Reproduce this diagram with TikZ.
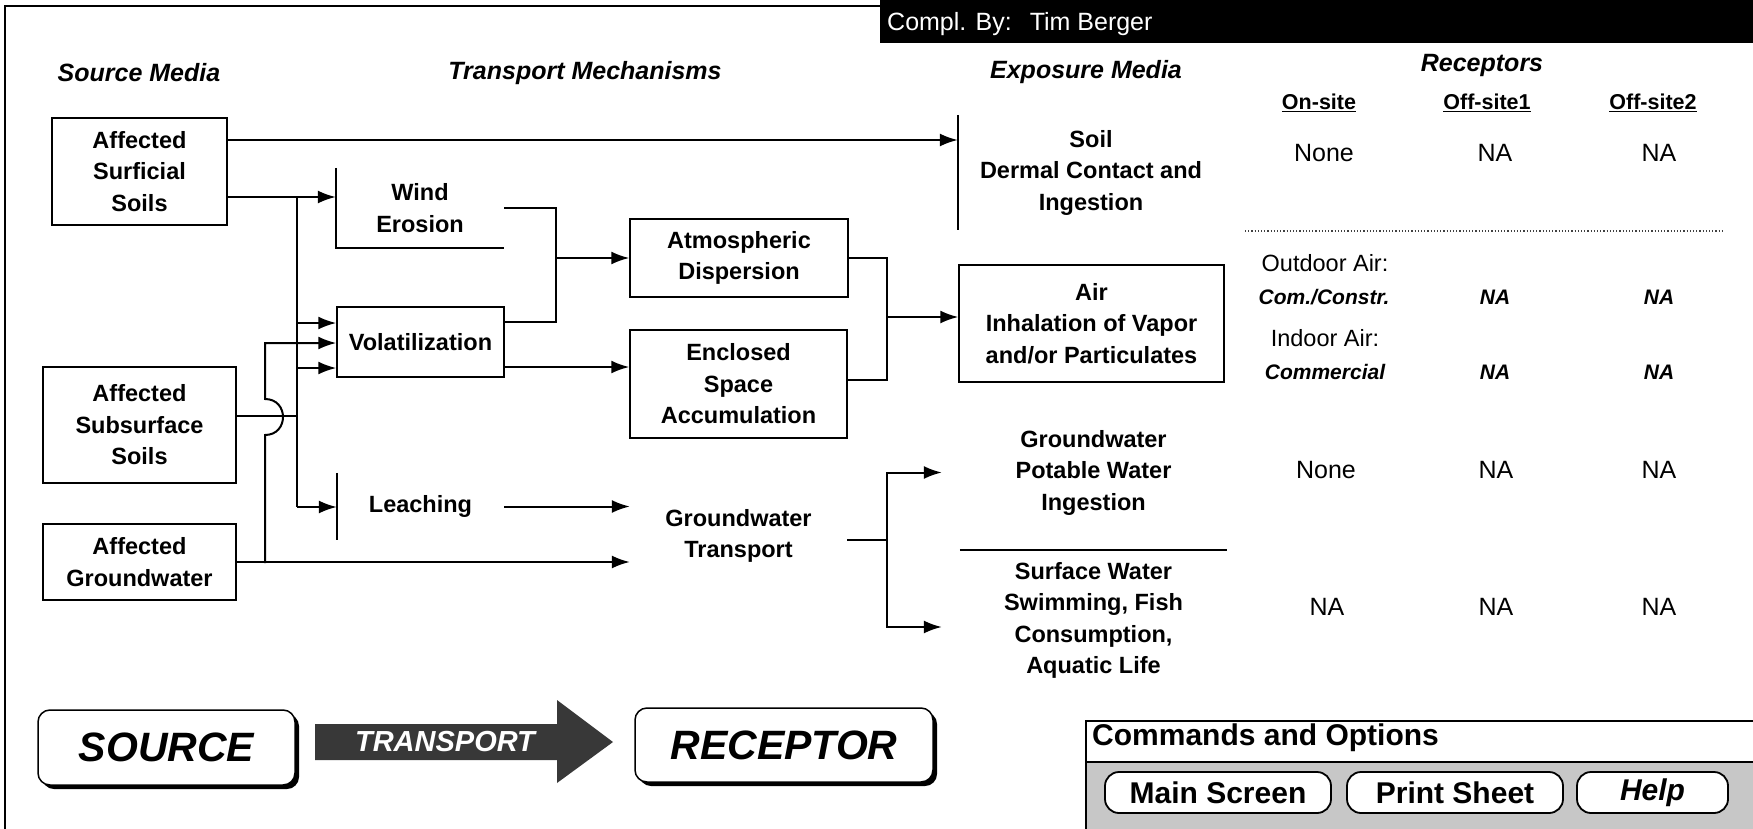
\documentclass[tikz,border=0pt]{standalone}
\usepackage{fontspec}
\setmainfont{Liberation Sans}
\usetikzlibrary{arrows.meta,shadows}
\begin{document}
\begin{tikzpicture}[x=1pt,y=-1pt,
  bx/.style={draw, line width=1.5pt, inner sep=0pt, align=center, font=\bfseries\fontsize{23.5}{31.5}\selectfont},
  tx/.style={inner sep=0pt, align=center, font=\bfseries\fontsize{23.5}{31.5}\selectfont},
  hd/.style={inner sep=0pt, font=\bfseries\itshape\fontsize{25}{30}\selectfont},
  rv/.style={inner sep=0pt, font=\fontsize{25}{30}\selectfont},
  rs/.style={inner sep=0pt, font=\fontsize{23.5}{28}\selectfont},
  rb/.style={inner sep=0pt, font=\bfseries\itshape\fontsize{21}{25}\selectfont},
  col/.style={inner sep=0pt, font=\bfseries\fontsize{21.5}{25}\selectfont},
  conn/.style={line width=2pt},
  arr/.style={line width=2pt, -{Latex[length=18pt,width=13pt]}},
  edge/.style={line width=1.5pt},
  btn/.style={draw, line width=1.8pt, fill=white, rounded corners=14pt, minimum height=41pt, inner sep=0pt, font=\bfseries\fontsize{30}{34}\selectfont},
  big/.style={draw, line width=1.5pt, fill=white, rounded corners=12pt, inner sep=0pt, font=\bfseries\itshape\fontsize{41}{45}\selectfont, drop shadow={shadow xshift=4pt, shadow yshift=-4pt, fill=black, opacity=1}}
]
\useasboundingbox (0,0) rectangle (1753,829);
\fill[white] (0,0) rectangle (1753,829);

% frame and header bar
\draw[edge] (5,829) -- (5,6) -- (880,6);
\fill[black] (880,0) rectangle (1753,43);
\node[anchor=west, inner sep=0pt, text=white, font=\fontsize{25}{30}\selectfont] (compl) at (887,24) {Compl. By:\hspace{18pt}Tim Berger};

% headings
\node[hd] (hsrc) at (139,73) {Source Media};
\node[hd] (htr) at (585,73) {Transport Mechanisms};
\node[hd] (hexp) at (1086,72) {Exposure Media};
\node[hd] (hrec) at (1482,65) {Receptors};
\node[col] (con) at (1319,103) {\underline{On-site}};
\node[col] (coff1) at (1487,103) {\underline{Off-site1}};
\node[col] (coff2) at (1653,103) {\underline{Off-site2}};

% source media
\node[bx, minimum width=175pt, minimum height=107pt] (surf) at (139.5,171.5) {Affected\\Surficial\\Soils};
\node[bx, minimum width=193pt, minimum height=116pt] (sub) at (139.5,425) {Affected\\Subsurface\\Soils};
\node[bx, minimum width=193pt, minimum height=76pt] (gw) at (139.5,562) {Affected\\Groundwater};

% transport mechanisms
\node[tx, minimum width=168pt, minimum height=80pt] (wind) at (420,208) {Wind\\Erosion};
\draw[edge] (wind.north west) -- (wind.south west) -- (wind.south east);
\node[bx, minimum width=167pt, minimum height=70pt] (vol) at (420.5,342) {Volatilization};
\node[tx, minimum width=167pt, minimum height=67pt] (leach) at (420.5,506.5) {Leaching};
\draw[edge] (leach.north west) -- (leach.south west);
\node[bx, minimum width=218pt, minimum height=78pt] (atm) at (739,258) {Atmospheric\\Dispersion};
\node[bx, minimum width=217pt, minimum height=108pt] (encl) at (738.5,384) {Enclosed\\Space\\Accumulation};
\node[tx, minimum width=217pt, minimum height=100pt] (gwt) at (738.5,536) {Groundwater\\Transport};

% exposure media
\node[tx, minimum width=266pt, minimum height=115pt] (soil) at (1091,172.5) {Soil\\Dermal Contact and\\Ingestion};
\draw[edge] (soil.north west) -- (soil.south west);
\node[bx, minimum width=265pt, minimum height=117pt] (air) at (1091.5,323.5) {Air\\Inhalation of Vapor\\and/or Particulates};
\node[tx, minimum width=267pt, minimum height=155pt] (gwx) at (1093.5,472.5) {Groundwater\\Potable Water\\Ingestion};
\draw[edge] (gwx.south west) -- (gwx.south east);
\node[tx, minimum width=267pt, minimum height=140pt] (swx) at (1093.5,620.5) {Surface Water\\Swimming, Fish\\Consumption,\\Aquatic Life};

% connectors
\coordinate (j3) at (297,197);
\coordinate (j4) at (297,507);
\coordinate (v1) at (297,323);
\coordinate (v3) at (297,368);
\coordinate (v2) at (265,343);
\coordinate (g1) at (265,563);
\coordinate (j1) at (556,258);
\coordinate (j2) at (887,317);
\coordinate (j5) at (887,540);

\draw[arr] ([yshift=31.5pt]surf.east) -- ([yshift=31.5pt]surf.east -| soil.west);
\draw[arr] ([yshift=-25.5pt]surf.east) -- ([yshift=-25.5pt]surf.east -| wind.west);
\draw[conn] (j3) -- (j4);
\draw[arr] (v1) -- (v1 -| vol.west);
\draw[arr] (v3) -- (v3 -| vol.west);
\draw[arr] (j4) -- (j4 -| leach.west);
\draw[conn] ([yshift=9pt]sub.east) -- ([yshift=9pt]sub.east -| j3);
\draw[arr] (gw.east) -- (gw.east -| gwt.west);
\draw[arr] (g1) -- (265,435) .. controls (289,435) and (289,399) .. (265,399) -- (v2) -- (v2 -| vol.west);

\draw[conn] (wind.east) -| (j1);
\draw[conn] ([yshift=20pt]vol.east) -| (j1);
\draw[arr] (j1) -- (atm.west);
\draw[arr] ([yshift=-25pt]vol.east) -- ([yshift=-25pt]vol.east -| encl.west);
\draw[arr] (leach.east) -- (leach.east -| gwt.west);

\draw[conn] (atm.east) -| (j2);
\draw[conn] ([yshift=4pt]encl.east) -| (j2);
\draw[arr] (j2) -- (j2 -| air.west);

\draw[conn] (gwt.east |- j5) -- (j5);
\draw[arr, shorten >=18pt] (j5) |- (gwx.west);
\draw[arr, shorten >=18pt] (j5) |- ([yshift=-6.5pt]swx.west);

% receptor values
\node[rv] (r11) at (1324,153) {None};
\node[rv] (r12) at (1495,153) {NA};
\node[rv] (r13) at (1659,153) {NA};
\draw[dotted, line width=1.2pt, black!75] (1245,231) -- (1723,231);
\node[rs] (out) at (1325,263) {Outdoor Air:};
\node[rb] (comc) at (1324,297) {Com./Constr.};
\node[rb] (r22) at (1495,297) {NA};
\node[rb] (r23) at (1659,297) {NA};
\node[rs] (ind) at (1325,338) {Indoor Air:};
\node[rb] (comm) at (1325,372) {Commercial};
\node[rb] (r32) at (1495,372) {NA};
\node[rb] (r33) at (1659,372) {NA};
\node[rv] (r41) at (1326,470) {None};
\node[rv] (r42) at (1496,470) {NA};
\node[rv] (r43) at (1659,470) {NA};
\node[rv] (r51) at (1327,607) {NA};
\node[rv] (r52) at (1496,607) {NA};
\node[rv] (r53) at (1659,607) {NA};

% source-transport-receptor banner
\node[big, minimum width=257pt, minimum height=75pt] (src) at (166.5,747.5) {SOURCE};
\fill[black!78] (315,724) -- (557,724) -- (557,700) -- (613,742) -- (557,783) -- (557,760) -- (315,760) -- cycle;
\node[inner sep=0pt, text=white, font=\bfseries\itshape\fontsize{29}{33}\selectfont] (trn) at (445,742) {TRANSPORT};
\node[big, minimum width=298pt, minimum height=74pt] (rcp) at (784,745) {RECEPTOR};

% commands and options
\fill[black!22] (1086,762) rectangle (1753,829);
\draw[edge] (1753,721) -- (1086,721) -- (1086,829);
\draw[edge] (1086,762) -- (1753,762);
\node[anchor=west, inner sep=0pt, font=\bfseries\fontsize{30}{34}\selectfont] (cmd) at (1092,738) {Commands and Options};
\node[btn, minimum width=226pt] (bmain) at (1218,792.5) {Main Screen};
\node[btn, minimum width=216pt] (bprint) at (1455,792.5) {Print Sheet};
\node[btn, minimum width=151pt, font=\bfseries\itshape\fontsize{30}{34}\selectfont] (bhelp) at (1652.5,792.5) {Help};
\end{tikzpicture}
\end{document}
